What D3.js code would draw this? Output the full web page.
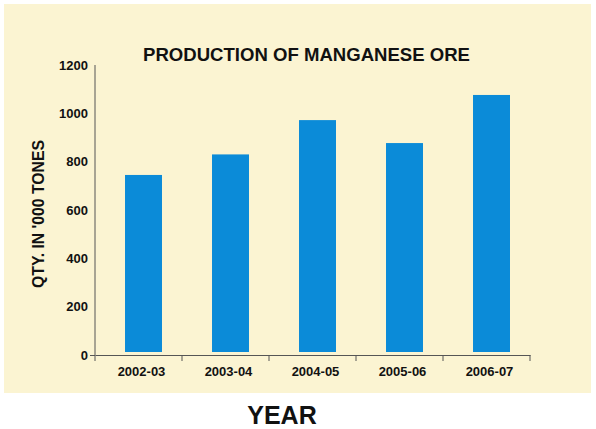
<!DOCTYPE html>
<html>
<head>
<meta charset="utf-8">
<script src="https://cdn.jsdelivr.net/npm/d3@7"></script>
<style>
  body { margin: 0; background: #fff; }
  svg { display: block; font-family: "Liberation Sans", Arial, sans-serif; }
</style>
</head>
<body>
<div id="chart-area"></div>
<script>
const years = ['2002-03', '2003-04', '2004-05', '2005-06', '2006-07'];
const production = [745, 830, 972, 877, 1076];
const yTicks = [0, 200, 400, 600, 800, 1000, 1200];

const W = 596, H = 429;

const svg = d3.select('#chart-area')
    .append('svg')
    .attr('width', W)
    .attr('height', H);

// cream panel behind the plot
svg.append('rect')
    .attr('x', 4).attr('y', 4)
    .attr('width', 587).attr('height', 389)
    .attr('fill', '#fbf4d2');

const x = d3.scaleBand()
    .domain(years)
    .range([95, 530])
    .paddingInner(0)
    .paddingOuter(0);

const y = d3.scaleLinear()
    .domain([0, 1200])
    .range([355, 65]);

// bars
const barW = x.bandwidth() * 0.425;
svg.selectAll('.bar')
    .data(years)
    .enter()
    .append('rect')
    .attr('class', 'bar')
    .attr('x', (d) => x(d) + x.bandwidth() * 0.345)
    .attr('y', (d, i) => y(production[i]))
    .attr('width', barW)
    .attr('height', (d, i) => y(0) - y(production[i]) - 3)
    .attr('fill', '#0b8bd8');

// y axis
const yAxis = svg.append('g')
    .attr('transform', 'translate(95,0)')
    .call(d3.axisLeft(y).tickValues(yTicks).tickFormat(d3.format('d')).tickSize(0).tickPadding(7));
yAxis.select('.domain').attr('stroke', '#555').attr('d', 'M0,65V361');
yAxis.selectAll('.tick text')
    .attr('font-size', 13)
    .attr('font-weight', 'bold')
    .attr('fill', '#111');
yAxis.selectAll('.tick')
    .filter((d) => d === 0)
    .select('line')
    .attr('x2', -5)
    .attr('stroke', '#555');

// x axis
const xAxis = svg.append('g')
    .attr('transform', 'translate(0,355)')
    .call(d3.axisBottom(x).tickSize(0).tickPadding(12));
xAxis.select('.domain').attr('stroke', '#555');
xAxis.selectAll('.tick text')
    .attr('font-size', 13)
    .attr('font-weight', 'bold')
    .attr('fill', '#111')
    .attr('dx', 3);

// separators between categories
const bounds = years.map((d) => x(d) + x.bandwidth()).slice(0, -1).concat([x.range()[1]]);
xAxis.selectAll('.sep')
    .data(bounds)
    .enter()
    .append('line')
    .attr('class', 'sep')
    .attr('x1', (d) => d).attr('x2', (d) => d)
    .attr('y1', 0).attr('y2', 6)
    .attr('stroke', '#555');

// title
svg.append('text')
    .attr('x', 143)
    .attr('y', 61)
    .attr('font-size', 18)
    .attr('font-weight', 'bold')
    .attr('fill', '#111')
    .attr('textLength', 327)
    .attr('lengthAdjust', 'spacingAndGlyphs')
    .text('PRODUCTION OF MANGANESE ORE');

// y label
svg.append('text')
    .attr('transform', 'translate(44,214) rotate(-90)')
    .attr('text-anchor', 'middle')
    .attr('font-size', 17)
    .attr('font-weight', 'bold')
    .attr('fill', '#111')
    .attr('textLength', 148)
    .attr('lengthAdjust', 'spacingAndGlyphs')
    .text("QTY. IN '000 TONES");

// x label
svg.append('text')
    .attr('x', 282)
    .attr('y', 424)
    .attr('text-anchor', 'middle')
    .attr('font-size', 25)
    .attr('font-weight', 'bold')
    .attr('fill', '#111')
    .text('YEAR');
</script>
</body>
</html>
